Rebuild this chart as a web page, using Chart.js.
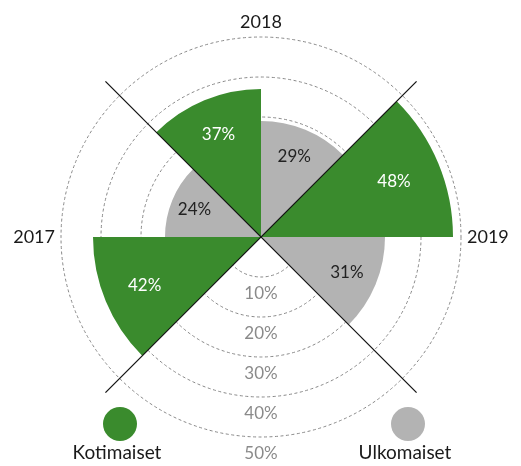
<!DOCTYPE html>
<html>
<head>
<meta charset="utf-8">
<title>Kotimaiset / Ulkomaiset</title>
<script src="https://cdn.jsdelivr.net/npm/chart.js"></script>
<style>
  html, body { margin: 0; padding: 0; background: #fff; }
  #wrap { position: relative; width: 521px; height: 466px; }
</style>
</head>
<body>
<div id="wrap"><canvas id="polar" width="521" height="466"></canvas></div>
<script>
// values per year: 2018, 2019, 2017
const years = ['2018', '2019', '2017'];
const kotimaiset = [37, 48, 42];
const ulkomaiset = [29, 31, 24];
const tickValues = [10, 20, 30, 40, 50];
const seriesNames = ['Kotimaiset', 'Ulkomaiset'];

const GREEN = '#3a8b2d';
const GRAY = '#b3b3b3';
const FONT = 'Lato, "Open Sans", sans-serif';

// 8 slices of 45 deg, clockwise from 12 o'clock
const labels = [years[0], '', years[1], '', '', '', years[2], ''];
const values = [ulkomaiset[0], kotimaiset[1], ulkomaiset[1], 0, 0, kotimaiset[2], ulkomaiset[2], kotimaiset[0]];
const colors = [GRAY, GREEN, GRAY, GRAY, GRAY, GREEN, GRAY, GREEN];

const extras = {
  id: 'extras',
  afterDatasetsDraw(chart) {
    const ctx = chart.ctx;
    const scale = chart.scales.r;
    const cx = scale.xCenter, cy = scale.yCenter;
    ctx.save();

    // value labels inside slices
    const meta = chart.getDatasetMeta(0);
    ctx.font = '17px ' + FONT;
    ctx.textAlign = 'center';
    ctx.textBaseline = 'middle';
    meta.data.forEach((arc, i) => {
      if (!values[i]) return;
      const mid = (arc.startAngle + arc.endAngle) / 2;
      const r = arc.outerRadius * 0.75;
      ctx.fillStyle = colors[i] === GREEN ? '#ffffff' : '#222222';
      ctx.fillText(values[i] + '%', cx + Math.cos(mid) * r, cy + Math.sin(mid) * r);
    });

    // diagonal dividers
    ctx.strokeStyle = '#111';
    ctx.lineWidth = 1.2;
    [[1, 5], [3, 7]].forEach(([a, b]) => {
      const p1 = scale.getPointPositionForValue(a, 55);
      const p2 = scale.getPointPositionForValue(b, 55);
      ctx.beginPath();
      ctx.moveTo(p1.x, p1.y);
      ctx.lineTo(p2.x, p2.y);
      ctx.stroke();
    });

    // tick labels below the centre
    ctx.fillStyle = '#8a8a8a';
    ctx.font = '17px ' + FONT;
    tickValues.forEach(v => {
      const d = scale.getDistanceFromCenterForValue(v);
      ctx.fillText(v + '%', cx, cy + d + 17);
    });

    // year labels
    ctx.fillStyle = '#1a1a1a';
    ctx.font = '18px ' + FONT;
    labels.forEach((lab, i) => {
      if (!lab) return;
      const p = scale.getPointPositionForValue(i, 52);
      if (i === 0) { ctx.textAlign = 'center'; ctx.textBaseline = 'bottom'; ctx.fillText(lab, p.x, p.y + 2); }
      else if (i === 2) { ctx.textAlign = 'left'; ctx.textBaseline = 'middle'; ctx.fillText(lab, p.x - 2, p.y); }
      else { ctx.textAlign = 'right'; ctx.textBaseline = 'middle'; ctx.fillText(lab, p.x + 2, p.y); }
    });

    // legend
    const legendX = [120, 408];
    const legendColors = [GREEN, GRAY];
    ctx.textAlign = 'center';
    ctx.textBaseline = 'middle';
    ctx.font = '19px ' + FONT;
    seriesNames.forEach((name, i) => {
      ctx.fillStyle = legendColors[i];
      ctx.beginPath();
      ctx.arc(legendX[i], 424, 17, 0, Math.PI * 2);
      ctx.fill();
      ctx.fillStyle = '#1a1a1a';
      ctx.fillText(name, legendX[i] - 3, 453);
    });
    ctx.restore();
  }
};

new Chart(document.getElementById('polar'), {
  type: 'polarArea',
  data: {
    labels: labels,
    datasets: [{
      data: values,
      backgroundColor: colors,
      borderWidth: 0
    }]
  },
  options: {
    responsive: false,
    animation: false,
    layout: { padding: { left: 61, right: 60, top: 37, bottom: 29 } },
    plugins: { legend: { display: false }, tooltip: { enabled: false } },
    scales: {
      r: {
        min: 0,
        max: 50,
        ticks: { display: false, stepSize: 10 },
        grid: { color: '#888888', lineWidth: 1 },
        border: { dash: [3, 2.5] },
        angleLines: { display: false },
        pointLabels: { display: false }
      }
    }
  },
  plugins: [extras]
});
</script>
</body>
</html>
